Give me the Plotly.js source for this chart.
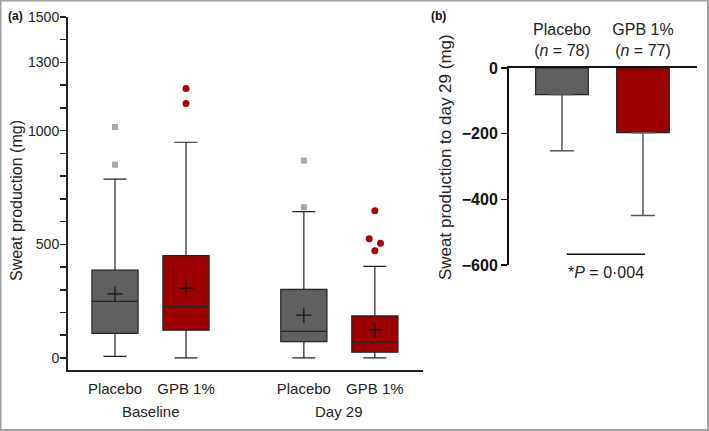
<!DOCTYPE html>
<html>
<head>
<meta charset="utf-8">
<script src="https://cdn.plot.ly/plotly-3.0.1.min.js"></script>
<style>html,body{margin:0;padding:0;background:#fff;}#chart{width:709px;height:431px;}</style>
</head>
<body>
<div id="chart"></div>
<script>
// ---- Panel (a) data: box plot summaries (mg) ----
var groupLabels = ['Baseline', 'Day 29'];
var boxLabels = ['Placebo', 'GPB 1%', 'Placebo', 'GPB 1%'];
var boxPos = [1, 2, 3.66, 4.66];
var q1 = [108, 122, 72, 25];
var medians = [249, 226, 117, 69];
var q3 = [386, 450, 302, 185];
var lowerWhisker = [7, 0, 0, 0];
var upperWhisker = [787, 949, 644, 403];
var means = [282, 307, 188, 123];
var outlierPlaceboBase = [1016, 850];
var outlierGpbBase = [1185, 1119];
var outlierPlaceboD29 = [868, 663];
var outlierGpbD29 = [648, 524, 505, 472];
var outlierGpbD29Jitter = [0, -0.08, 0.08, 0];
var yTickVals = [0,100,200,300,400,500,600,700,800,900,1000,1100,1200,1300,1400,1500];
var yTickShown = [0, 500, 1000, 1300, 1500];

// ---- Panel (b) data: change in sweat production to day 29 (mg) ----
var barLabels = ['Placebo<br>(<i>n</i> = 78)', 'GPB 1%<br>(<i>n</i> = 77)'];
var barChange = [-81, -197];
var barSD = [171, 252];
var bTickVals = [0, -200, -400, -600];
var bTickText = ['0', '\u2212200', '\u2212400', '\u2212600'];
var pText = '*<i>P</i> = 0\u00b7004';

var grey = '#606060', red = '#9c0000';
var boxFill = [grey, red, grey, red];
var font = 'Liberation Sans, Arial, sans-serif';

var traces = [];
for (var i = 0; i < boxPos.length; i++) {
  traces.push({
    type: 'box', x: [boxPos[i]], q1: [q1[i]], median: [medians[i]], q3: [q3[i]],
    lowerfence: [lowerWhisker[i]], upperfence: [upperWhisker[i]],
    width: 0.65, whiskerwidth: 0.5, boxpoints: false,
    fillcolor: boxFill[i], line: {color: '#222', width: 1.2},
    xaxis: 'x', yaxis: 'y', showlegend: false, hoverinfo: 'skip'
  });
}
traces.push({
  type: 'scatter', mode: 'markers', x: boxPos, y: means,
  marker: {symbol: 'cross-thin', size: 11, line: {color: '#111', width: 1.2}},
  xaxis: 'x', yaxis: 'y', showlegend: false
});
function rep(v, n){ var a=[]; for(var k=0;k<n;k++) a.push(v); return a; }
traces.push({
  type: 'scatter', mode: 'markers',
  x: rep(boxPos[0], outlierPlaceboBase.length).concat(rep(boxPos[2], outlierPlaceboD29.length)),
  y: outlierPlaceboBase.concat(outlierPlaceboD29),
  marker: {symbol: 'square', size: 6, color: '#a8a8a8'},
  xaxis: 'x', yaxis: 'y', showlegend: false
});
var gx = rep(boxPos[1], outlierGpbBase.length);
for (var j = 0; j < outlierGpbD29.length; j++) gx.push(boxPos[3] + outlierGpbD29Jitter[j]);
traces.push({
  type: 'scatter', mode: 'markers', x: gx, y: outlierGpbBase.concat(outlierGpbD29),
  marker: {symbol: 'circle', size: 7, color: '#b00000'},
  xaxis: 'x', yaxis: 'y', showlegend: false
});
traces.push({
  type: 'bar', x: [0, 1], y: barChange, width: 0.65,
  marker: {color: [grey, red], line: {color: '#222', width: 1.2}},
  error_y: {type: 'data', symmetric: false, array: [0, 0], arrayminus: barSD,
            color: '#555', thickness: 1.5, width: 12},
  xaxis: 'x2', yaxis: 'y2', showlegend: false
});

var yTickText = yTickVals.map(function(v){ return yTickShown.indexOf(v) >= 0 ? String(v) : ''; });

var layout = {
  width: 709, height: 431,
  margin: {l: 0, r: 0, t: 0, b: 0},
  paper_bgcolor: '#fff', plot_bgcolor: 'rgba(0,0,0,0)',
  font: {family: font, color: '#222'},
  showlegend: false,
  xaxis: {
    domain: [68/709, 423/709], range: [0.338, 5.338], anchor: 'y',
    showgrid: false, zeroline: false, showline: true, linecolor: '#222', linewidth: 2,
    tickvals: boxPos, ticktext: boxLabels, ticks: '', ticklabelstandoff: 4,
    tickfont: {size: 15, color: '#222', family: font}, fixedrange: true
  },
  yaxis: {
    domain: [1 - 370/431, 1 - 17/431], range: [-53, 1500], anchor: 'x',
    showgrid: false, zeroline: false, showline: true, linecolor: '#222', linewidth: 2,
    tickvals: yTickVals, ticktext: yTickText, ticks: 'outside', ticklen: 6, tickwidth: 1.5, tickcolor: '#222',
    ticklabelstandoff: -2,
    tickfont: {size: 14, color: '#222', family: font}, fixedrange: true
  },
  xaxis2: {
    domain: [509/709, 697/709], range: [-0.654, 1.667], anchor: 'y2', side: 'top',
    showgrid: false, zeroline: false, showline: true, linecolor: '#111', linewidth: 2,
    tickvals: [0, 1], ticktext: barLabels, ticks: '', ticklabelstandoff: 4,
    tickfont: {size: 16, color: '#222', family: font}, fixedrange: true
  },
  yaxis2: {
    domain: [1 - 265/431, 1 - 68/431], range: [-600, 0], anchor: 'x2',
    showgrid: false, zeroline: false, showline: true, linecolor: '#111', linewidth: 2,
    tickvals: bTickVals, ticktext: bTickText, ticks: 'outside', ticklen: 6, tickwidth: 1.5, tickcolor: '#111',
    tickfont: {size: 16, color: '#111', family: font, weight: 'bold'}, fixedrange: true
  },
  shapes: [
    {type: 'rect', xref: 'paper', yref: 'paper', x0: 0.5/709, x1: 708/709, y0: 1/431, y1: 430.5/431,
     line: {color: '#a0a0a0', width: 2}, fillcolor: 'rgba(0,0,0,0)'},
    {type: 'line', xref: 'x2', yref: 'y2', x0: 0.06, x1: 1.025, y0: -567, y1: -567,
     line: {color: '#111', width: 1.5}}
  ],
  annotations: [
    {text: '<b>(a)</b>', xref: 'paper', yref: 'paper', x: 6/709, y: 1 - 16/431, xanchor: 'left', yanchor: 'middle',
     showarrow: false, font: {size: 12, color: '#111', family: font}},
    {text: '<b>(b)</b>', xref: 'paper', yref: 'paper', x: 429/709, y: 1 - 16/431, xanchor: 'left', yanchor: 'middle',
     showarrow: false, font: {size: 12, color: '#111', family: font}},
    {text: 'Sweat production (mg)', xref: 'paper', yref: 'paper', x: 16/709, y: 1 - 201/431, textangle: -90,
     xanchor: 'center', yanchor: 'middle', showarrow: false, font: {size: 16, color: '#222', family: font}},
    {text: 'Sweat production to day 29 (mg)', xref: 'paper', yref: 'paper', x: 445/709, y: 1 - 157/431, textangle: -90,
     xanchor: 'center', yanchor: 'middle', showarrow: false, font: {size: 17, color: '#222', family: font}},
    {text: groupLabels[0], xref: 'x', yref: 'paper', x: (boxPos[0] + boxPos[1]) / 2, y: 1 - 411/431,
     xanchor: 'center', yanchor: 'middle', showarrow: false, font: {size: 15, color: '#222', family: font}},
    {text: groupLabels[1], xref: 'x', yref: 'paper', x: (boxPos[2] + boxPos[3]) / 2, y: 1 - 411/431,
     xanchor: 'center', yanchor: 'middle', showarrow: false, font: {size: 15, color: '#222', family: font}},
    {text: pText, xref: 'x2', yref: 'paper', x: 0.54, y: 1 - 272/431,
     xanchor: 'center', yanchor: 'middle', showarrow: false, font: {size: 16, color: '#222', family: font}}
  ]
};

Plotly.newPlot('chart', traces, layout, {staticPlot: true, displayModeBar: false});
</script>
</body>
</html>
